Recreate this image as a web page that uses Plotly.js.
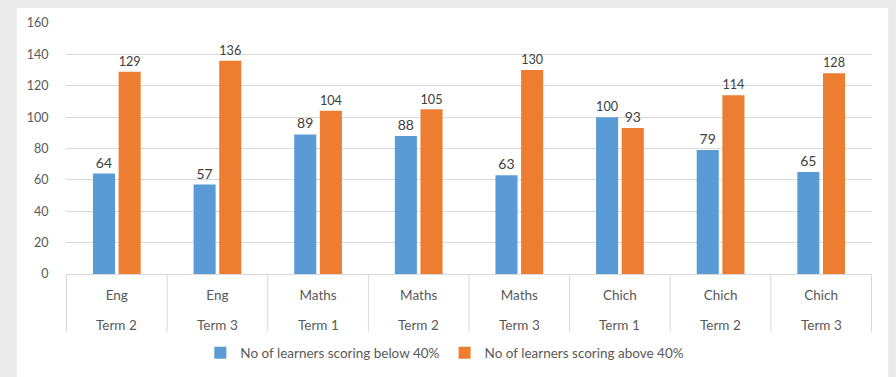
<!DOCTYPE html>
<html>
<head>
<meta charset="utf-8">
<script src="https://cdn.plot.ly/plotly-3.0.1.min.js"></script>
<style>
  html, body { margin: 0; padding: 0; background: #ebebeb; }
  #chart { width: 896px; height: 377px; }
</style>
</head>
<body>
<div id="chart"></div>
<script>
// Learner results per subject and term
const subjects = ["Eng", "Eng", "Maths", "Maths", "Maths", "Chich", "Chich", "Chich"];
const terms = ["Term 2", "Term 3", "Term 1", "Term 2", "Term 3", "Term 1", "Term 2", "Term 3"];
const below40 = [64, 57, 89, 88, 63, 100, 79, 65];
const above40 = [129, 136, 104, 105, 130, 93, 114, 128];
const yTicks = [0, 20, 40, 60, 80, 100, 120, 140, 160];

// Unique key per subject/term column on the category axis
const keys = subjects.map((s, i) => s + " " + terms[i]);

const FONT = "Lato, 'Open Sans', sans-serif";
const GRID = "#d9d9d9";
const TEXT = "#595959";

const traces = [
  {
    type: "bar",
    name: "No of learners scoring below 40%",
    x: keys,
    y: below40,
    marker: { color: "#5b9bd5" },
    text: below40.map(String),
    textposition: "outside",
    textfont: { family: FONT, size: 14, color: "#404040" },
    cliponaxis: false,
    hoverinfo: "skip"
  },
  {
    type: "bar",
    name: "No of learners scoring above 40%",
    x: keys,
    y: above40,
    marker: { color: "#ed7d31" },
    text: above40.map(String),
    textposition: "outside",
    textfont: { family: FONT, size: 14, color: "#404040" },
    cliponaxis: false,
    hoverinfo: "skip"
  }
];

// Divider lines between columns in the label band
const dividers = keys.concat([null]).map((_, i) => ({
  type: "line",
  xref: "x",
  yref: "paper",
  x0: i - 0.5,
  x1: i - 0.5,
  y0: 0,
  y1: -0.23,
  line: { color: GRID, width: 1 },
  layer: "below"
}));

// White chart panel on the grey page
const panel = {
  type: "rect",
  xref: "paper",
  yref: "paper",
  x0: -0.061,
  x1: 1.02,
  y0: -0.45,
  y1: 1.06,
  fillcolor: "#ffffff",
  line: { width: 0 },
  layer: "below"
};

// Term row, placed under each subject label
const termLabels = terms.map((t, i) => ({
  xref: "x",
  yref: "paper",
  x: keys[i],
  y: -0.203,
  yanchor: "middle",
  text: t,
  showarrow: false,
  font: { family: FONT, size: 13.5, color: TEXT }
}));

const layout = {
  width: 896,
  height: 377,
  margin: { l: 66, r: 24, t: 23, b: 103, autoexpand: false },
  paper_bgcolor: "#ebebeb",
  plot_bgcolor: "rgba(0,0,0,0)",
  font: { family: FONT, size: 12, color: TEXT },
  barmode: "group",
  bargap: 0.49,
  bargroupgap: 0.14,
  showlegend: true,
  legend: {
    orientation: "h",
    x: 0.47,
    xanchor: "center",
    y: -0.315,
    yanchor: "middle",
    bgcolor: "rgba(0,0,0,0)",
    font: { family: FONT, size: 13.5, color: TEXT },
    itemwidth: 30,
    traceorder: "normal"
  },
  // subject row
  xaxis: {
    type: "category",
    automargin: false,
    showgrid: false,
    showline: true,
    linecolor: GRID,
    linewidth: 1,
    tickvals: keys,
    ticktext: subjects,
    ticks: "outside",
    ticklen: 9,
    tickcolor: "rgba(0,0,0,0)",
    tickfont: { family: FONT, size: 13.5, color: TEXT },
    fixedrange: true
  },
  yaxis: {
    range: [0, 160],
    automargin: false,
    tickvals: yTicks,
    showgrid: true,
    gridcolor: GRID,
    gridwidth: 1,
    zeroline: false,
    showline: false,
    ticks: "outside",
    ticklen: 14,
    tickcolor: "rgba(0,0,0,0)",
    tickfont: { family: FONT, size: 12.5, color: TEXT },
    fixedrange: true
  },
  annotations: termLabels,
  shapes: [panel].concat(dividers)
};

Plotly.newPlot("chart", traces, layout, { displayModeBar: false, staticPlot: true });
</script>
</body>
</html>
